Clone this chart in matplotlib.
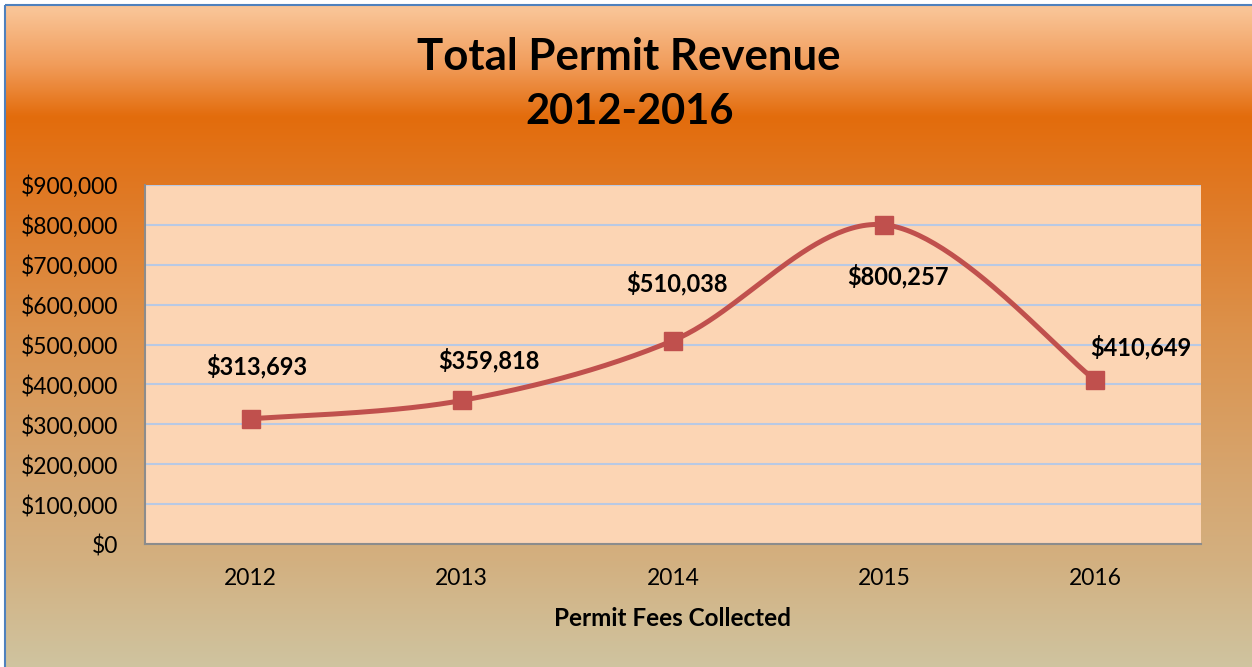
import numpy as np
import matplotlib
matplotlib.use('Agg')
import matplotlib.pyplot as plt
from matplotlib.patches import Rectangle
from matplotlib.ticker import FuncFormatter

years = ['2012', '2013', '2014', '2015', '2016']
revenue = [313693, 359818, 510038, 800257, 410649]
y_ticks = [0, 100000, 200000, 300000, 400000, 500000, 600000, 700000, 800000, 900000]

title = 'Total Permit Revenue\n2012-2016'
x_title = 'Permit Fees Collected'

# label offsets in pixels (dx, dy) from each marker
offsets = [(6, 53), (27, 40), (4, 57), (14, -51), (45, 33)]

plt.rcParams['font.family'] = ['Lato', 'DejaVu Sans']

W, H = 1252, 667
fig = plt.figure(figsize=(W / 100, H / 100), dpi=100, facecolor='white')


def smooth(xs, ys, n=60):
    # excel-style smoothed line: cubic bezier with catmull-rom control points
    pts = np.column_stack([xs, ys]).astype(float)
    pad = np.vstack([pts[0], pts, pts[-1]])
    segs = []
    t = np.linspace(0, 1, n)[:, None]
    for i in range(len(pts) - 1):
        p0, p1, p2, p3 = pad[i], pad[i + 1], pad[i + 2], pad[i + 3]
        c1 = p1 + (p2 - p0) / 6
        c2 = p2 - (p3 - p1) / 6
        segs.append((1 - t) ** 3 * p1 + 3 * (1 - t) ** 2 * t * c1
                    + 3 * (1 - t) * t ** 2 * c2 + t ** 3 * p2)
    return np.vstack(segs)


# background gradient
stops_y = [5, 60, 112, 190, 330, 480, 560, 667]
stops_c = np.array([(249, 196, 150), (241, 156, 90), (227, 108, 12), (224, 121, 36),
                    (220, 146, 76), (214, 166, 112), (211, 176, 128), (207, 196, 160)]) / 255
ys = np.arange(H)
grad = np.stack([np.interp(ys, stops_y, stops_c[:, k]) for k in range(3)], axis=1)
grad = np.repeat(grad[:, None, :], 4, axis=1)

bg = fig.add_axes([0, 0, 1, 1], zorder=0)
bg.imshow(grad, aspect='auto', extent=[5, W + 5, H, 5], interpolation='bilinear')
bg.set_xlim(0, W)
bg.set_ylim(H, 0)
bg.axis('off')
bg.add_patch(Rectangle((5, 5), W + 20, H + 20, fill=False, edgecolor='#4F81BD', lw=1.5))

ax = fig.add_axes([145 / W, 1 - 544 / H, (1201 - 145) / W, (544 - 185) / H], zorder=1)
ax.set_facecolor('#FCD5B4')

x = np.arange(len(years))
curve = smooth(x, revenue)
ax.plot(curve[:, 0], curve[:, 1], color='#C0504D', lw=3.6, solid_capstyle='round', zorder=3)
ax.plot(x, revenue, 's', color='#C0504D', markersize=13.5, zorder=4)

for xi, v, (dx, dy) in zip(x, revenue, offsets):
    ax.annotate('${:,.0f}'.format(v), (xi, v), xytext=(dx, dy), textcoords='offset pixels',
                ha='center', va='center', fontsize=17, fontweight='bold', zorder=5)

ax.set_xlim(-0.5, len(years) - 0.5)
ax.set_ylim(0, 900000)
ax.set_yticks(y_ticks)
ax.yaxis.set_major_formatter(FuncFormatter(lambda v, p: '${:,.0f}'.format(v)))
ax.set_xticks(x)
ax.set_xticklabels(years)
ax.grid(axis='y', color='#B8C9E4', lw=1.5)
ax.set_axisbelow(True)
ax.tick_params(axis='both', length=0, labelsize=16.5)
ax.tick_params(axis='y', pad=19)
ax.tick_params(axis='x', pad=17)
for s in ['top', 'right']:
    ax.spines[s].set_visible(False)
for s in ['left', 'bottom']:
    ax.spines[s].set_color('#8C8C8C')
    ax.spines[s].set_linewidth(1.5)

line1, line2 = title.split('\n')
fig.text(629 / W, 1 - 57 / H, line1, ha='center', va='center', fontsize=31.5, fontweight='bold')
fig.text(630 / W, 1 - 112 / H, line2, ha='center', va='center', fontsize=30, fontweight='bold')
fig.text(673 / W, 1 - 618 / H, x_title, ha='center', va='center', fontsize=17.5, fontweight='bold')

fig.savefig('out.png', dpi=100)
